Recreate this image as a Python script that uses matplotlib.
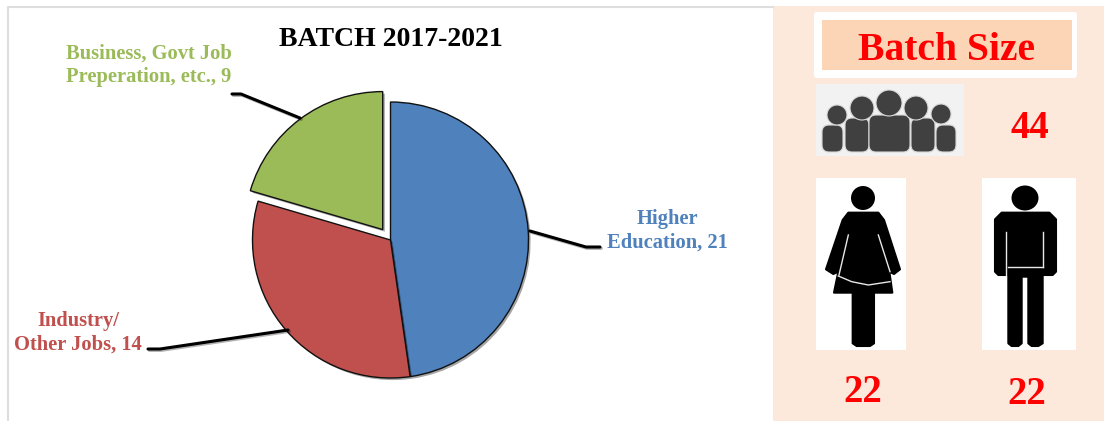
import matplotlib
matplotlib.use('Agg')
import matplotlib.pyplot as plt
import matplotlib.patheffects as pe
from matplotlib.patches import Rectangle, FancyBboxPatch, Circle, Ellipse, Polygon

W, H = 1104, 421

categories = ['Higher\nEducation', 'Industry/\nOther Jobs', 'Business, Govt Job\nPreperation, etc.']
values = [21, 14, 9]
colors = ['#4F81BD', '#C0504D', '#9BBB59']
explode = [0, 0, 13]
title = 'BATCH 2017-2021'
panel_title = 'Batch Size'
total = 44
female = 22
male = 22

plt.rcParams['font.family'] = ['Liberation Serif', 'DejaVu Serif']

fig = plt.figure(figsize=(W / 100, H / 100), dpi=100)
ax = fig.add_axes([0, 0, 1, 1])


def Y(py):
    return H - py


# zoom crop coords of the right panel -> picture coords
def zp(points):
    return [(780 + x / 3, Y(y / 3)) for x, y in points]


shadow = [pe.SimplePatchShadow(offset=(1.5, -1.5), shadow_rgbFace='k', alpha=0.35), pe.Normal()]

wedges, _ = ax.pie(values, colors=colors, explode=explode, center=(390.5, Y(240)), radius=138,
                   startangle=90, counterclock=False, frame=False,
                   wedgeprops={'edgecolor': '#111111', 'linewidth': 1.0})
for w in wedges:
    w.set_path_effects(shadow)

ax.set_xlim(0, W)
ax.set_ylim(0, H)
ax.set_aspect('auto')
ax.axis('off')

# frame of the chart
ax.plot([7.5, 7.5, 773], [Y(421), Y(6.5), Y(6.5)], color='#DEDEDE', lw=1.5)

# leader lines
line_fx = [pe.SimpleLineShadow(offset=(1, -1), alpha=0.3), pe.Normal()]
leaders = [
    [(530, 231), (586, 247), (600, 247)],
    [(288, 330), (160, 349), (148, 349)],
    [(300, 118), (241, 94), (232, 94)],
]
for pts in leaders:
    ax.plot([p[0] for p in pts], [Y(p[1]) for p in pts], color='k', lw=2.2, path_effects=line_fx,
            solid_capstyle='round')

ax.text(391, Y(40), title, ha='center', va='center', fontsize=20, fontweight='bold', color='k')

label_pos = [(667, 231), (78, 333), (148.5, 65)]
for name, v, c, (x, y) in zip(categories, values, colors, label_pos):
    ax.text(x, Y(y), f'{name}, {v}', ha='center', va='center', fontsize=14.8, fontweight='bold',
            color=c, linespacing=1.25)

# right panel
ax.add_patch(Rectangle((773, 0), W - 773, Y(6), color='#FCE9DB', lw=0))
ax.add_patch(FancyBboxPatch((817, Y(75)), 257, 60, boxstyle='round,pad=3,rounding_size=3',
                            fc='white', ec='none'))
ax.add_patch(Rectangle((822, Y(70)), 250, 50, color='#FBD5B5', lw=0))
ax.text(947, Y(51), panel_title, ha='center', va='center', fontsize=28.5, fontweight='bold', color='#FF0000')

# group icon
ax.add_patch(Rectangle((816, Y(156)), 148, 72, color='#F2F2F2', lw=0))
for x0, x1, y0 in [(822, 843, 125), (845, 869, 118), (911, 935, 118), (936, 956, 125), (869, 910, 115)]:
    ax.add_patch(FancyBboxPatch((x0 + 7, Y(152) + 7), x1 - x0 - 14, 152 - y0 - 14,
                                boxstyle='round,pad=7,rounding_size=7', fc='#404040', ec='#D8D8D8', lw=0.8))
for x, y, r in [(837, 115, 10), (862, 108, 12), (916, 108, 12), (941, 114, 10), (889, 103, 13)]:
    ax.add_patch(Circle((x, Y(y)), r, fc='#404040', ec='#D8D8D8', lw=0.8))

# female icon
ax.add_patch(Rectangle((816, Y(350)), 90, 172, color='white', lw=0))
ax.add_patch(Circle((863, Y(198)), 12, color='k', lw=0))
ax.add_patch(Polygon(zp([(205, 638), (295, 638), (312, 660), (360, 808), (342, 822), (328, 815), (337, 878),
                         (282, 878), (282, 1030), (270, 1038), (230, 1038), (218, 1030), (218, 878),
                         (162, 878), (175, 815), (160, 822), (138, 808), (188, 660)]),
                     color='k', lw=1.5, joinstyle='round'))
for pts in [[(205, 705), (177, 825)], [(295, 705), (330, 815)],
            [(175, 828), (215, 845), (265, 855), (330, 845)]]:
    xy = zp(pts)
    ax.plot([p[0] for p in xy], [p[1] for p in xy], color='#E8E8E8', lw=1)

# male icon
ax.add_patch(Rectangle((982, Y(350)), 94, 172, color='white', lw=0))
ax.add_patch(Ellipse((1025, Y(198)), 27, 25, color='k', lw=0))
ax.add_patch(Polygon(zp([(665, 638), (808, 638), (828, 658), (828, 815), (818, 825), (788, 825), (788, 1030),
                         (775, 1038), (755, 1038), (745, 1030), (745, 830), (725, 830), (725, 1030),
                         (715, 1038), (695, 1038), (685, 1030), (685, 825), (655, 825), (645, 815),
                         (645, 658)]), color='k', lw=1.5, joinstyle='round'))
for pts in [[(678, 695), (678, 825)], [(788, 695), (788, 800)], [(685, 800), (788, 800)]]:
    xy = zp(pts)
    ax.plot([p[0] for p in xy], [p[1] for p in xy], color='#E8E8E8', lw=1)

num_style = dict(ha='center', va='center', fontsize=28, fontweight='bold', color='#FF0000')
ax.text(1030, Y(128), str(total), **num_style)
ax.text(863, Y(393), str(female), **num_style)
ax.text(1027, Y(395), str(male), **num_style)

fig.savefig('out.png', dpi=100)
